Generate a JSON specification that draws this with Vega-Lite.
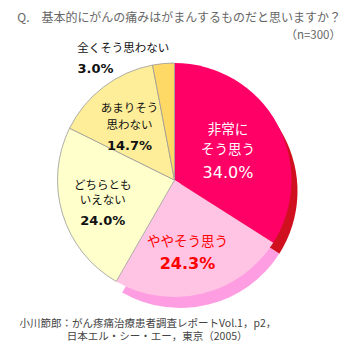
{
  "$schema": "https://vega.github.io/schema/vega-lite/v6.json",
  "width": 355,
  "height": 352,
  "autosize": {"type": "fit", "contains": "padding"},
  "padding": {"top": 25, "left": 0, "right": 6, "bottom": 10},
  "background": "white",
  "config": {"view": {"stroke": null}},
  "title": {
    "text": "Q.　基本的にがんの痛みはがまんするものだと思いますか？",
    "subtitle": "（n=300）",
    "anchor": "end",
    "frame": "group",
    "font": "Noto Sans CJK JP",
    "fontSize": 12,
    "fontWeight": "normal",
    "color": "#666666",
    "subtitleFont": "Noto Sans CJK JP",
    "subtitleFontSize": 11.5,
    "subtitleColor": "#666666",
    "subtitlePadding": 5,
    "offset": 0,
    "dx": -8
  },
  "data": {
    "values": [
      {"cat": "非常にそう思う", "name": "非常に\nそう思う", "value": 34.0, "pct": "34.0%"},
      {"cat": "ややそう思う", "name": "ややそう思う", "value": 24.3, "pct": "24.3%"},
      {"cat": "どちらともいえない", "name": "どちらとも\nいえない", "value": 24.0, "pct": "24.0%"},
      {"cat": "あまりそう思わない", "name": "あまりそう\n思わない", "value": 14.7, "pct": "14.7%"},
      {"cat": "全くそう思わない", "name": "全くそう思わない", "value": 3.0, "pct": "3.0%"}
    ]
  },
  "layer": [
    {
      "mark": {"type": "rule", "opacity": 0},
      "encoding": {
        "x": {
          "field": "value",
          "type": "quantitative",
          "axis": {
            "title": ["小川節郎：がん疼痛治療患者調査レポートVol.1，p2，", "\u200b\u3000\u3000\u3000\u3000\u2002日本エル・シー・エー，東京（2005）"],
            "labels": false,
            "ticks": false,
            "domain": false,
            "grid": false,
            "titleFont": "Noto Sans CJK JP",
            "titleFontSize": 10.5,
            "titleFontWeight": "normal",
            "titleColor": "#444444",
            "titleAnchor": "start",
            "titleAlign": "left",
            "titleBaseline": "top",
            "titleLineHeight": 13.5,
            "titleX": 19,
            "titlePadding": 14
          }
        }
      }
    },
    {
      "encoding": {
        "theta": {"field": "value", "type": "quantitative", "stack": true},
        "order": {"field": "value", "type": "quantitative", "sort": "descending"}
      },
      "layer": [
        {
          "mark": {"type": "arc", "outerRadius": 117, "xOffset": 6, "yOffset": 11},
          "encoding": {
            "fill": {
              "field": "cat",
              "type": "nominal",
              "scale": {
                "domain": ["非常にそう思う", "ややそう思う", "どちらともいえない", "あまりそう思わない", "全くそう思わない"],
                "range": ["#d0101f", "#ff9de2", "transparent", "transparent", "transparent"]
              },
              "legend": null
            }
          }
        },
        {
          "mark": {"type": "arc", "outerRadius": 117, "stroke": "#999999"},
          "encoding": {
            "color": {
              "field": "cat",
              "type": "nominal",
              "scale": {
                "domain": ["非常にそう思う", "ややそう思う", "どちらともいえない", "あまりそう思わない", "全くそう思わない"],
                "range": ["#ff0066", "#ffc4e4", "#ffffcc", "#ffee99", "#ffd966"]
              },
              "legend": null
            },
            "strokeWidth": {
              "condition": {"test": "indexof(['どちらともいえない','あまりそう思わない','全くそう思わない'], datum.cat) >= 0", "value": 0.8},
              "value": 0
            }
          }
        },
        {
          "mark": {"type": "text", "radius": 61, "dy": -20.6, "font": "Noto Sans CJK JP", "fontSize": 13.5, "lineHeight": 20, "color": "white", "baseline": "middle", "align": "center", "lineBreak": "\n"},
          "encoding": {"detail": {"field": "cat"}, "text": {"condition": {"test": "datum.cat === '非常にそう思う'", "field": "name", "type": "nominal"}, "value": ""}}
        },
        {
          "mark": {"type": "text", "radius": 61, "dy": 22.4, "font": "DejaVu Sans", "fontSize": 16, "color": "white", "baseline": "middle", "align": "center"},
          "encoding": {"detail": {"field": "cat"}, "text": {"condition": {"test": "datum.cat === '非常にそう思う'", "field": "pct", "type": "nominal"}, "value": ""}}
        },
        {
          "mark": {"type": "text", "radius": 74.5, "thetaOffset": 0.067, "dy": -11.5, "font": "Noto Sans CJK JP", "fontSize": 13.5, "color": "#ff0000", "baseline": "middle", "align": "center", "lineBreak": "\n"},
          "encoding": {"detail": {"field": "cat"}, "text": {"condition": {"test": "datum.cat === 'ややそう思う'", "field": "name", "type": "nominal"}, "value": ""}}
        },
        {
          "mark": {"type": "text", "radius": 74.5, "thetaOffset": 0.067, "dy": 10.5, "font": "DejaVu Sans", "fontWeight": "bold", "fontSize": 16, "color": "#ff0000", "baseline": "middle", "align": "center"},
          "encoding": {"detail": {"field": "cat"}, "text": {"condition": {"test": "datum.cat === 'ややそう思う'", "field": "pct", "type": "nominal"}, "value": ""}}
        },
        {
          "mark": {"type": "text", "radius": 75, "dy": -16, "font": "Noto Sans CJK JP", "fontSize": 11.5, "lineHeight": 15.5, "color": "#111111", "baseline": "middle", "align": "center", "lineBreak": "\n"},
          "encoding": {"detail": {"field": "cat"}, "text": {"condition": {"test": "datum.cat === 'どちらともいえない'", "field": "name", "type": "nominal"}, "value": ""}}
        },
        {
          "mark": {"type": "text", "radius": 75, "dy": 19, "font": "DejaVu Sans", "fontWeight": "bold", "fontSize": 13, "color": "#111111", "baseline": "middle", "align": "center"},
          "encoding": {"detail": {"field": "cat"}, "text": {"condition": {"test": "datum.cat === 'どちらともいえない'", "field": "pct", "type": "nominal"}, "value": ""}}
        },
        {
          "mark": {"type": "text", "radius": 74.3, "dy": -11.5, "font": "Noto Sans CJK JP", "fontSize": 11.5, "lineHeight": 17, "color": "#111111", "baseline": "middle", "align": "center", "lineBreak": "\n"},
          "encoding": {"detail": {"field": "cat"}, "text": {"condition": {"test": "datum.cat === 'あまりそう思わない'", "field": "name", "type": "nominal"}, "value": ""}}
        },
        {
          "mark": {"type": "text", "radius": 74.3, "dy": 25, "font": "DejaVu Sans", "fontWeight": "bold", "fontSize": 13, "color": "#111111", "baseline": "middle", "align": "center"},
          "encoding": {"detail": {"field": "cat"}, "text": {"condition": {"test": "datum.cat === 'あまりそう思わない'", "field": "pct", "type": "nominal"}, "value": ""}}
        },
        {
          "mark": {"type": "text", "radius": 141, "thetaOffset": -0.278, "font": "Noto Sans CJK JP", "fontSize": 11.5, "color": "#111111", "baseline": "middle", "align": "center"},
          "encoding": {"detail": {"field": "cat"}, "text": {"condition": {"test": "datum.cat === '全くそう思わない'", "field": "name", "type": "nominal"}, "value": ""}}
        },
        {
          "mark": {"type": "text", "radius": 136.2, "thetaOffset": -0.524, "font": "DejaVu Sans", "fontWeight": "bold", "fontSize": 13, "color": "#111111", "baseline": "middle", "align": "center"},
          "encoding": {"detail": {"field": "cat"}, "text": {"condition": {"test": "datum.cat === '全くそう思わない'", "field": "pct", "type": "nominal"}, "value": ""}}
        }
      ]
    }
  ]
}
